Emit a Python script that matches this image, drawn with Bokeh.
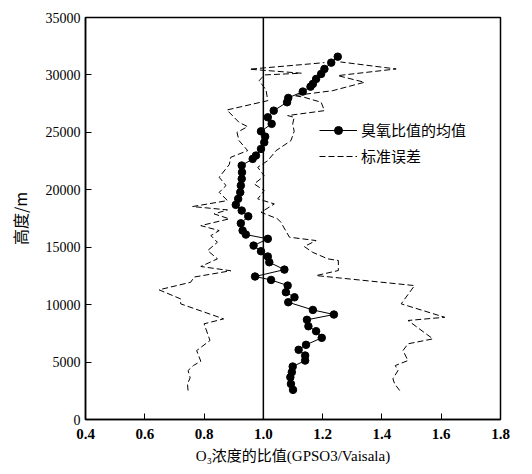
from bokeh.plotting import figure
from bokeh.models import FixedTicker, Legend, LegendItem, Span
from bokeh.embed import file_html
from bokeh.resources import INLINE

# ---- data ----
mean_x = [1.100, 1.093, 1.091, 1.096, 1.099, 1.141, 1.141, 1.119, 1.144, 1.197,
          1.178, 1.152, 1.147, 1.238, 1.167, 1.084, 1.105, 1.076, 1.082, 1.026,
          0.972, 1.071, 1.020, 1.015, 0.992, 0.967, 1.015, 0.941, 0.930, 0.924,
          0.949, 0.927, 0.907, 0.915, 0.922, 0.924, 0.927, 0.928, 0.927, 0.964,
          0.975, 0.992, 1.003, 1.006, 0.992, 1.028, 1.015, 1.035, 1.080, 1.084,
          1.133, 1.159, 1.167, 1.178, 1.195, 1.206, 1.229, 1.251]
mean_y = [2580, 3100, 3680, 4120, 4610, 5130, 5570, 6070, 6500, 7110,
          7690, 8120, 8680, 9140, 9540, 10210, 10640, 11080, 11660, 12150,
          12450, 13050, 13690, 14190, 14650, 15140, 15730, 16100, 16450, 17080,
          17690, 18190, 18690, 19210, 19780, 20370, 20950, 21520, 22110, 22690,
          22980, 23560, 24130, 24630, 25090, 25740, 26310, 26890, 27620, 28000,
          28550, 28980, 29220, 29650, 30090, 30520, 31070, 31590]

lo_x = [0.746, 0.744, 0.753, 0.746, 0.764, 0.789, 0.775, 0.820, 0.800, 0.866,
        0.721, 0.721, 0.648, 0.755, 0.766, 0.890, 0.789, 0.845, 0.812, 0.845,
        0.823, 0.851, 0.789, 0.885, 0.834, 0.879, 0.761, 0.845, 0.879, 0.851,
        0.874, 0.851, 0.885, 0.890, 0.947, 0.918, 0.911, 0.947, 0.918, 0.877,
        1.015, 1.009, 0.986, 1.003, 1.128, 0.953, 1.206]
lo_y = [2520, 3100, 3630, 4260, 4700, 5070, 6000, 6880, 8330, 8760,
        10070, 10500, 11290, 11950, 12400, 12950, 13320, 13990, 14710, 15430,
        16010, 16450, 16880, 17470, 17900, 18250, 18540, 18910, 19060, 19780,
        20370, 21090, 22200, 22830, 23410, 24280, 25000, 25500, 25870, 26950,
        27760, 28690, 29500, 30000, 30150, 30500, 31070]

hi_x = [1.460, 1.443, 1.437, 1.454, 1.445, 1.488, 1.471, 1.488, 1.572, 1.488,
        1.612, 1.465, 1.510, 1.178, 1.253, 1.253, 1.217, 1.166, 1.138, 1.178,
        1.088, 1.059, 1.048, 0.992, 1.037, 0.981, 1.003, 0.969, 1.003, 0.981,
        1.015, 1.043, 1.093, 1.104, 1.099, 1.104, 1.082, 1.206, 1.195, 1.138,
        1.104, 1.234, 1.341, 1.251, 1.448, 1.260]
hi_y = [2520, 3100, 3540, 4260, 4700, 5130, 6000, 6590, 7020, 8620,
        8900, 10070, 11660, 12530, 12970, 13840, 13990, 14560, 15060, 15580,
        15870, 17170, 17470, 18040, 18770, 19210, 19930, 20510, 21200, 21960,
        22540, 23410, 24280, 25090, 25740, 26310, 26460, 26890, 27620, 28050,
        28200, 28630, 29360, 29940, 30520, 31130]

x_ticks = [0.4, 0.6, 0.8, 1.0, 1.2, 1.4, 1.6, 1.8]
x_tick_labels = ["0.4", "0.6", "0.8", "1.0", "1.2", "1.4", "1.6", "1.8"]
y_ticks = [0, 5000, 10000, 15000, 20000, 25000, 30000, 35000]

legend_labels = ["臭氧比值的均值", "标准误差"]
x_title = "O₃浓度的比值(GPSO3/Vaisala)"
y_title = "高度/m"

SERIF = "Liberation Serif"
CJK = "Noto Sans CJK SC"

p = figure(width=516, height=466, x_range=(0.4, 1.8), y_range=(0, 35000),
           output_backend="svg", toolbar_location=None,
           min_border_left=85, min_border_right=16, min_border_top=17,
           min_border_bottom=47)
p.grid.visible = False
p.outline_line_color = "black"
p.outline_line_width = 1.5
p.background_fill_color = "white"
p.border_fill_color = "white"

# vertical reference line
p.add_layout(Span(location=1.0, dimension="height", line_color="black", line_width=1.5))

r_lo = p.line(lo_x, lo_y, line_color="black", line_width=1, line_dash="6 3")
r_hi = p.line(hi_x, hi_y, line_color="black", line_width=1, line_dash="6 3")
r_mean = p.line(mean_x, mean_y, line_color="black", line_width=1)
r_pts = p.scatter(mean_x, mean_y, size=7.5, fill_color="black", line_color="black")

# axes
xa = p.xaxis[0]
xa.ticker = FixedTicker(ticks=x_ticks)
xa.major_label_overrides = {t: l for t, l in zip(x_ticks, x_tick_labels)}
xa.major_tick_in = 6
xa.major_tick_out = 0
xa.minor_tick_line_color = None
xa.axis_line_width = 1.5
xa.axis_line_color = "black"
xa.major_tick_line_color = "black"
xa.major_label_text_color = "black"
xa.major_label_text_font = SERIF
xa.major_label_text_font_size = "15px"
xa.major_label_text_font_style = "bold"
xa.major_label_standoff = 9
xa.axis_label = x_title
xa.axis_label_text_color = "black"
xa.axis_label_text_font = SERIF + ", " + CJK
xa.axis_label_text_font_size = "15px"
xa.axis_label_text_font_style = "normal"
xa.axis_label_standoff = 6

ya = p.yaxis[0]
ya.ticker = FixedTicker(ticks=y_ticks)
ya.major_tick_in = 6
ya.major_tick_out = 0
ya.minor_tick_line_color = None
ya.axis_line_width = 1.5
ya.axis_line_color = "black"
ya.major_tick_line_color = "black"
ya.major_label_text_color = "black"
ya.major_label_text_font = SERIF
ya.major_label_text_font_size = "14px"
ya.major_label_standoff = 5
ya.axis_label = y_title
ya.axis_label_text_color = "black"
ya.axis_label_text_font = CJK
ya.axis_label_text_font_size = "16px"
ya.axis_label_text_font_style = "normal"
ya.axis_label_standoff = 11

legend = Legend(items=[LegendItem(label=legend_labels[0], renderers=[r_mean, r_pts]),
                       LegendItem(label=legend_labels[1], renderers=[r_lo])],
                location=(234, 253), border_line_color=None,
                background_fill_alpha=0.0, label_text_font=CJK,
                label_text_color="black",
                label_text_font_size="15px", glyph_width=38, glyph_height=20,
                label_height=20, spacing=5, padding=4, margin=0,
                label_standoff=4)
p.add_layout(legend)

open("out.html", "w").write(file_html(p, INLINE))
